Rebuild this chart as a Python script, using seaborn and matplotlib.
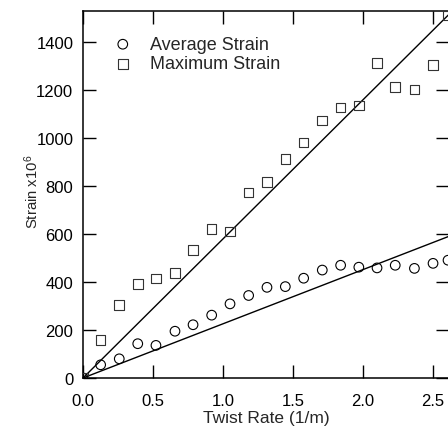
import numpy as np
import matplotlib
matplotlib.use('Agg')
import matplotlib.pyplot as plt
import seaborn as sns

sns.set_style('ticks')
plt.rcParams['font.family'] = ['Liberation Sans', 'DejaVu Sans']
plt.rcParams['mathtext.default'] = 'regular'

# twist rate (1/m)
twist = [0.0, 0.126, 0.259, 0.391, 0.521, 0.657, 0.786, 0.919, 1.05, 1.183, 1.314,
         1.445, 1.576, 1.709, 1.84, 1.97, 2.10, 2.23, 2.367, 2.50, 2.607]
avg_strain = [0, 55, 80, 143, 136, 195, 222, 262, 309, 344, 378,
              381, 416, 450, 470, 462, 459, 470, 457, 478, 491]
max_strain = [0, 159, 304, 391, 415, 438, 533, 622, 610, 773, 816,
              912, 981, 1074, 1127, 1136, 1313, 1213, 1203, 1306, 1511]
# slopes of the fitted lines through the origin
slope_max = 580
slope_avg = 226

fig = plt.figure(figsize=(4.48, 4.31), dpi=100)
ax = fig.add_axes([83/448, 52/431, 366/448, 367/431])

sns.scatterplot(x=twist, y=avg_strain, marker='o', s=48, facecolor='none',
                edgecolor='black', linewidth=0.8, label='Average Strain', ax=ax, zorder=3)
sns.scatterplot(x=twist, y=max_strain, marker='s', s=48, facecolor='none',
                edgecolor='#333333', linewidth=0.8, label='Maximum Strain', ax=ax, zorder=3)

xl = np.array([0, 2.7])
sns.lineplot(x=xl, y=slope_max * xl, color='black', lw=1.0, ax=ax)
sns.lineplot(x=xl, y=slope_avg * xl, color='black', lw=1.0, ax=ax)

ax.set_xlim(0, 2.614)
ax.set_ylim(0, 1530)
ax.set_xticks([0, 0.5, 1.0, 1.5, 2.0, 2.5])
ax.set_xticklabels(['0.0', '0.5', '1.0', '1.5', '2.0', '2.5'])
ax.set_yticks(range(0, 1401, 200))
ax.tick_params(direction='in', length=9.5, width=1.0, top=True, right=True,
               labelsize=12, colors='black')
ax.tick_params(axis='x', pad=10.5)
ax.tick_params(axis='y', pad=7)
for s in ax.spines.values():
    s.set_linewidth(1.1)
    s.set_color('black')

ax.set_xlabel('Twist Rate (1/m)', fontsize=12.5)
ax.xaxis.set_label_coords(0.5, -0.086)
ax.set_ylabel('Strain x10$^6$', fontsize=10.7)
ax.yaxis.set_label_coords(-0.115, 0.51)

ax.legend(loc='upper left', frameon=False, fontsize=13, handlelength=1.0,
          handletextpad=1.0, borderpad=0, borderaxespad=0, labelspacing=0.14,
          bbox_to_anchor=(0.084, 0.932))

fig.savefig('out.png', dpi=100)
